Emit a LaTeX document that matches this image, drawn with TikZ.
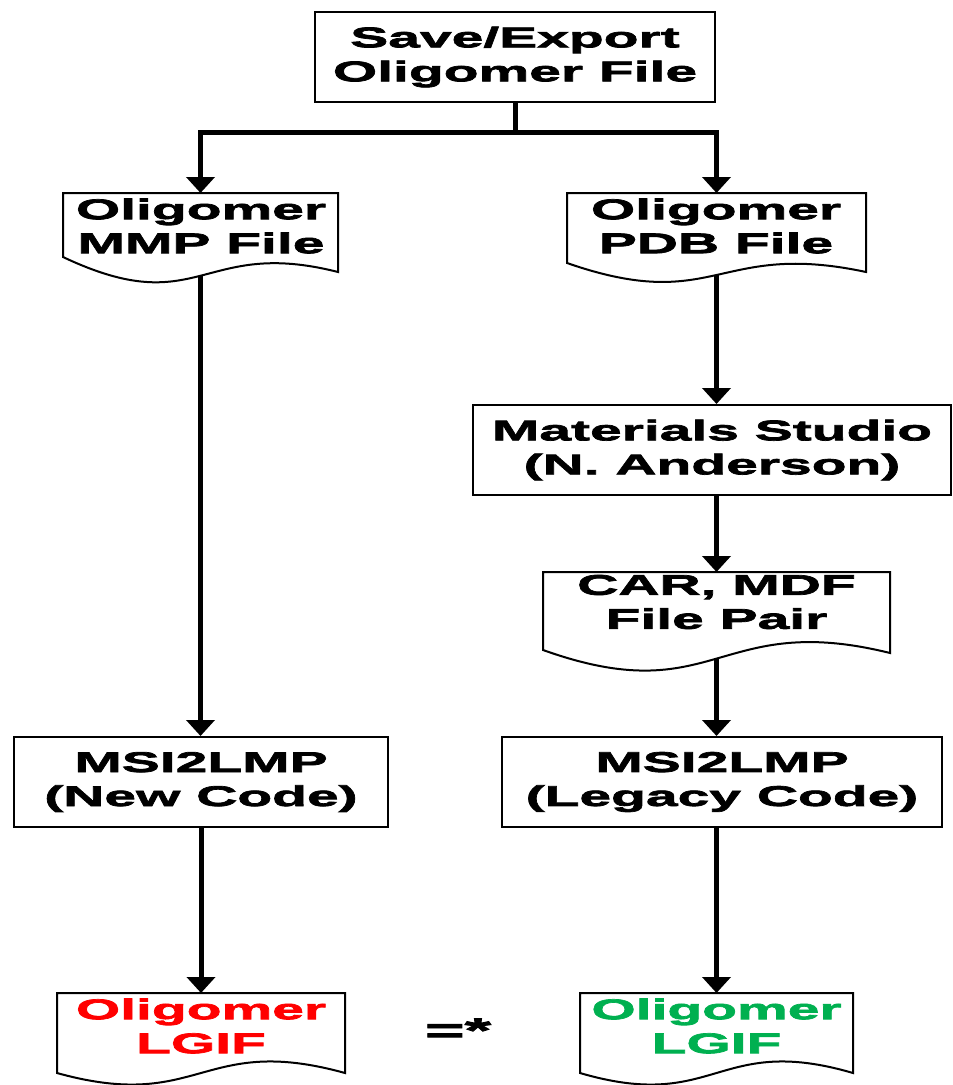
\documentclass[tikz,border=0pt]{standalone}
\usepackage{fontspec}
\setmainfont{Liberation Sans}[FakeStretch=2.0,FakeBold=2.5]
\usetikzlibrary{arrows.meta,calc}
\definecolor{lgred}{RGB}{255,0,0}
\definecolor{lggreen}{RGB}{0,176,80}
\pgfdeclarelayer{bg}
\pgfsetlayers{bg,main}
% #1 node, #2 drop of right corner below left corner, #3 crest pull, #4 trough pull
\newcommand\docshape[4]{%
  \draw[docline] (#1.north west) -- (#1.north east) -- ($(#1.south east)+(0,#2)$)
    .. controls ($(#1.south)+(0,#2-#3)$) and ($(#1.south)+(0,#4)$) .. (#1.south west) -- cycle;}
\begin{document}
\begin{tikzpicture}[x=1pt,y=-1pt,
  txt/.style={font=\fontsize{28.5pt}{34pt}\selectfont\bfseries, align=center, inner sep=0pt},
  procbox/.style={txt, draw, line width=2pt, fill=white},
  docarea/.style={inner sep=0pt, outer sep=0pt},
  docline/.style={draw, line width=2pt, fill=white},
  conn/.style={line width=5pt},
  arr/.style={conn, -{Triangle[width=28pt,length=16pt]}},
]
\useasboundingbox (0,0) rectangle (953,1085);

% process boxes
\node[procbox, minimum width=400pt, minimum height=90pt] (top) at (515,57) {Save/Export\\Oligomer File};
\node[procbox, minimum width=478pt, minimum height=90pt] (mat) at (712,450) {Materials Studio\\(N. Anderson)};
\node[procbox, minimum width=374pt, minimum height=90pt] (newcode) at (201,782) {MSI2LMP\\(New Code)};
\node[procbox, minimum width=440pt, minimum height=90pt] (legacy) at (722,782) {MSI2LMP\\(Legacy Code)};

% document shapes
\node[docarea, minimum width=275pt, minimum height=64pt] (mmp) at (200.5,225) {};
\node[docarea, minimum width=299pt, minimum height=70pt] (pdb) at (716.5,228) {};
\node[docarea, minimum width=347pt, minimum height=78pt] (car) at (716.5,611) {};
\node[docarea, minimum width=288pt, minimum height=80pt] (red) at (201,1033) {};
\node[docarea, minimum width=273pt, minimum height=80pt] (green) at (716.5,1033) {};
\docshape{mmp}{15}{35}{65}
\docshape{pdb}{9}{32}{52}
\docshape{car}{3}{43}{62}
\docshape{red}{0}{40}{40}
\docshape{green}{0}{40}{40}

\node[txt] (mmp-t) at (201,226) {Oligomer\\MMP File};
\node[txt] (pdb-t) at (716,226) {Oligomer\\PDB File};
\node[txt] (car-t) at (716.5,602) {CAR, MDF\\File Pair};
\node[txt, text=lgred] (red-t) at (201,1026) {Oligomer\\LGIF};
\node[txt, text=lggreen] (green-t) at (716.5,1026) {Oligomer\\LGIF};
\node[txt, font=\fontsize{34pt}{40pt}\selectfont\bfseries, anchor=base] (eq) at (458,1042) {=*};

% connectors
\begin{pgfonlayer}{bg}
\coordinate (split) at (515,132);
\draw[conn] (top.south) -- (split);
\draw[arr] (split) -| (mmp.north);
\draw[arr] (split) -| (pdb.north);
\draw[arr] (mmp.south) -- (mmp.south |- newcode.north);
\draw[arr] (pdb.south) -- (pdb.south |- mat.north);
\draw[arr] (car.north |- mat.south) -- (car.north);
\draw[arr] (car.south) -- (car.south |- legacy.north);
\draw[arr] (newcode.south) -- (newcode.south |- red.north);
\draw[arr] (green.north |- legacy.south) -- (green.north);
\end{pgfonlayer}
\end{tikzpicture}
\end{document}
